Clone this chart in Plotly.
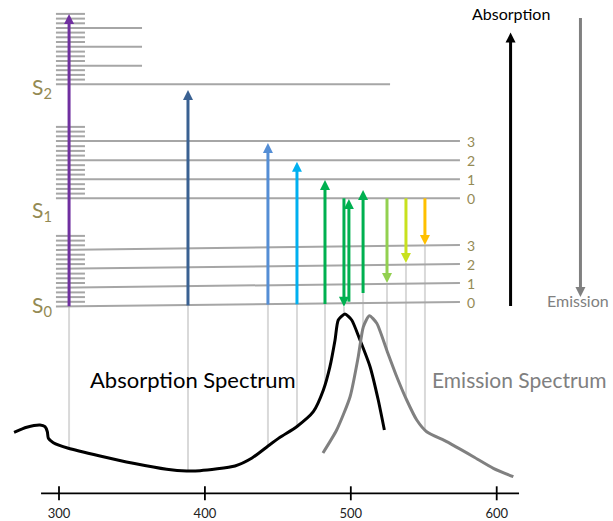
import numpy as np
import plotly.graph_objects as go

# ---------------- data ----------------
# wavelength axis (nm)
tick_nm = [300, 400, 500, 600]
tick_text = ["300", "400", "500", "600"]

# absorption spectrum (wavelength nm, relative signal)
abs_nm = [269.2, 277.9, 287.0, 290.4, 292.0, 292.7, 296.1, 306.4, 328.1, 350.9,
          373.8, 387.5, 396.6, 420.6, 432.3, 443.3, 451.5, 462.9, 474.3, 481.2,
          485.7, 489.2, 491.4, 496.0, 500.6, 506.3, 513.2, 518.8, 523.0]
abs_val = [88.7, 93.7, 96.0, 94.3, 89.3, 82.7, 78.3, 72.7, 65.0, 57.7,
           51.7, 50.0, 50.3, 55.0, 63.0, 75.0, 83.7, 94.3, 109.3, 131.0,
           154.3, 181.0, 201.0, 207.0, 201.0, 181.0, 154.3, 121.0, 91.0]

# emission spectrum
em_nm = [480.9, 490.3, 499.5, 505.1, 508.6, 512.7, 517.8, 524.6, 531.5, 538.3,
         545.2, 552.0, 565.7, 584.0, 597.7, 611.4]
em_val = [68.0, 91.0, 124.3, 164.3, 194.3, 205.3, 197.7, 171.0, 144.3, 121.0,
          101.0, 89.3, 79.3, 64.3, 52.7, 44.3]

# energy levels (diagram energy units), vibrational v = 0..3
vib_labels = ["0", "1", "2", "3"]
S0_left = [214.5, 233.3, 252.2, 271.0]
S0_right = [219.0, 238.0, 257.0, 276.0]
S1_levels = [322.7, 341.7, 360.7, 380.0]
S2_levels = [436.7, 455.3, 474.3, 493.0]
sub_gap = 4.7
state_names = ["S<sub>0</sub>", "S<sub>1</sub>", "S<sub>2</sub>"]
state_energy = [215.0, 310.0, 433.0]

# absorption transitions (upward)
up_nm = [306.9, 388.4, 443.2, 463.1, 482.3, 498.7, 508.4]
up_from = [214.7, 215.5, 216.4, 216.7, 217.0, 219.3, 228.0]
up_to = [507.0, 431.0, 378.0, 359.3, 341.0, 322.0, 331.0]
up_colors = ["#7030A0", "#3A6192", "#558ED5", "#00B0F0", "#00B050", "#00B050", "#00B050"]

# emission transitions (downward)
down_nm = [495.3, 524.8, 537.8, 550.8]
down_from = [322.7, 322.7, 322.7, 322.7]
down_to = [214.3, 238.0, 258.0, 276.0]
down_colors = ["#00B050", "#92D050", "#C8E11E", "#FFC000"]

# legend-like direction arrows (Absorption up, Emission down)
dir_nm = [609.5, 657.4]
dir_from = [215.0, 503.0]
dir_to = [488.5, 224.0]
dir_colors = ["black", "#808080"]

# ---------------- geometry / style ----------------
X0, X1 = 259.56, 679.7      # visible wavelength window
lvl_x0, lvl_x1 = 297.9, 574.8
s2_long_x1, s2_short_x1 = 526.9, 356.9
dense_x1 = 317.8
LEVEL_C = "#A6A6A6"
DROP_C = "#D9D9D9"
OLIVE = "#948A54"
FONT = "Lato, 'Open Sans', sans-serif"
HEAD = 10  # arrow head size (px == y units)

fig = go.Figure()


def curve_at(x, xs, ys):
    if x < xs[0] or x > xs[-1]:
        return None
    return float(np.interp(x, xs, ys))


# drop lines from levels down to the spectra
drop_x = up_nm[:5] + [down_nm[0], up_nm[6]] + down_nm[1:]
drop_top = up_from[:5] + [down_to[0], up_from[6]] + down_to[1:]
dx, dy = [], []
for x, top in zip(drop_x, drop_top):
    vals = [v for v in (curve_at(x, abs_nm, abs_val), curve_at(x, em_nm, em_val)) if v is not None]
    bottom = max(vals)
    dx += [x, x, None]
    dy += [top, bottom, None]
fig.add_trace(go.Scatter(x=dx, y=dy, mode="lines", line=dict(color=DROP_C, width=2),
                         hoverinfo="skip", showlegend=False))

# long vibrational level lines
lx, ly = [], []
for a, b in zip(S0_left, S0_right):
    lx += [lvl_x0, lvl_x1, None]
    ly += [a, b, None]
for e in S1_levels:
    lx += [lvl_x0, lvl_x1, None]
    ly += [e, e, None]
lx += [lvl_x0, s2_long_x1, None]
ly += [S2_levels[0], S2_levels[0], None]
for e in S2_levels[1:]:
    lx += [lvl_x0, s2_short_x1, None]
    ly += [e, e, None]
# dense rotational sub-levels
for band in (S0_left, S1_levels, S2_levels):
    for e in band:
        for k in (1, 2, 3):
            lx += [lvl_x0, dense_x1, None]
            ly += [e + k * sub_gap, e + k * sub_gap, None]
fig.add_trace(go.Scatter(x=lx, y=ly, mode="lines", line=dict(color=LEVEL_C, width=2),
                         hoverinfo="skip", showlegend=False))

# spectra
fig.add_trace(go.Scatter(x=abs_nm, y=abs_val, mode="lines",
                         line=dict(color="black", width=3, shape="spline", smoothing=0.6),
                         showlegend=False))
fig.add_trace(go.Scatter(x=em_nm, y=em_val, mode="lines",
                         line=dict(color="#808080", width=3, shape="spline", smoothing=0.6),
                         showlegend=False))

# wavelength axis
ax_y = 27.7
fig.add_trace(go.Scatter(x=[287.7, 615.3], y=[ax_y, ax_y], mode="lines",
                         line=dict(color="black", width=1.8), showlegend=False, hoverinfo="skip"))
fig.add_trace(go.Scatter(x=tick_nm, y=[ax_y] * len(tick_nm), mode="markers",
                         marker=dict(symbol="line-ns", size=10, line=dict(color="black", width=1.8)),
                         showlegend=False, hoverinfo="skip"))
fig.add_trace(go.Scatter(x=tick_nm, y=[6.0] * len(tick_nm), mode="text", text=tick_text,
                         textfont=dict(family=FONT, size=13, color="#222222"),
                         showlegend=False, hoverinfo="skip"))

# arrows: shaft line + arrow-head marker at the tip
all_x = up_nm + down_nm + dir_nm
all_from = up_from + down_from + dir_from
all_to = up_to + down_to + dir_to
all_c = up_colors + down_colors + dir_colors
for x, a, b, c in zip(all_x, all_from, all_to, all_c):
    d = 1 if b > a else -1
    fig.add_trace(go.Scatter(x=[x, x], y=[a, b - d * HEAD * 0.6], mode="lines",
                             line=dict(color=c, width=3), hoverinfo="skip", showlegend=False))
    fig.add_trace(go.Scatter(x=[x], y=[b], mode="markers",
                             marker=dict(symbol="arrow-up" if d > 0 else "arrow-down",
                                         size=HEAD, color=c, line=dict(width=0)),
                             hoverinfo="skip", showlegend=False))

texts = [
    dict(x=609.5, y=507.5, text="Absorption", size=16, color="black", xanchor="center"),
    dict(x=656.0, y=221, text="Emission", size=16, color="#808080", xanchor="center"),
    dict(x=391.5, y=142, text="Absorption Spectrum", size=22, color="black", xanchor="center"),
    dict(x=554.3, y=142, text="Emission Spectrum", size=21, color="#808080", xanchor="left"),
]
for t in texts:
    fig.add_annotation(x=t["x"], y=t["y"], text=t["text"], showarrow=False, xref="x", yref="y",
                       xanchor=t["xanchor"], yanchor="middle",
                       font=dict(family=FONT, size=t["size"], color=t["color"]))

# state labels
for name, e in zip(state_names, state_energy):
    fig.add_annotation(x=296.5, y=e, text=name, showarrow=False, xref="x", yref="y",
                       xanchor="right", yanchor="middle",
                       font=dict(family=FONT, size=21, color=OLIVE))

# vibrational labels
for lab, e in zip(vib_labels + vib_labels, S1_levels + S0_right):
    fig.add_annotation(x=578.5, y=e, text=lab, showarrow=False, xref="x", yref="y",
                       xanchor="left", yanchor="middle",
                       font=dict(family=FONT, size=14, color=OLIVE))

fig.update_layout(
    width=613, height=521,
    margin=dict(l=0, r=0, t=0, b=0),
    paper_bgcolor="white", plot_bgcolor="white",
    xaxis=dict(range=[X0, X1], visible=False, fixedrange=True),
    yaxis=dict(range=[0, 521], visible=False, fixedrange=True),
    showlegend=False,
)

fig.write_html("out.html")
